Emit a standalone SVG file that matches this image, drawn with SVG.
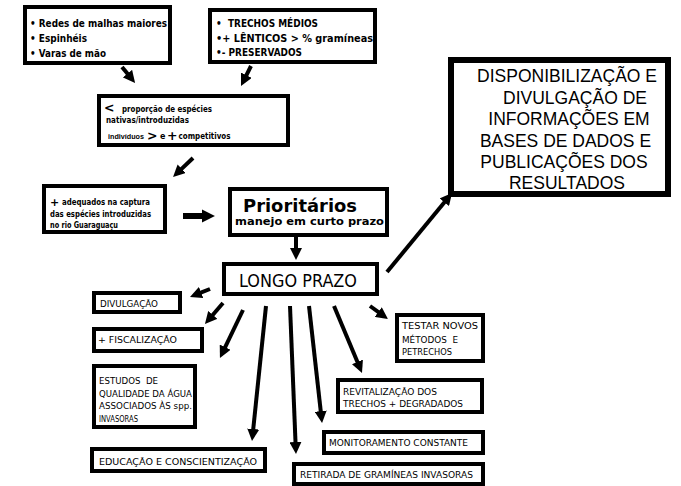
<svg xmlns="http://www.w3.org/2000/svg" width="681" height="486" viewBox="0 0 681 486">
<style>
.bx{fill:#fff;stroke:#000;stroke-width:4}
.b{font-family:"DejaVu Sans",Verdana,sans-serif;font-weight:bold;fill:#000}
.r{font-family:"DejaVu Sans",Verdana,sans-serif;fill:#000;white-space:pre}
.a{font-family:"Liberation Sans",Arial,sans-serif;font-size:17.5px;fill:#000;text-anchor:middle}
.s{font-size:10px}
.t{font-size:8px}
.k{font-size:12.5px}
.n{font-size:9.5px}
.ar{stroke:#000;stroke-width:4;fill:none;marker-end:url(#ah)}
</style>
<defs>
<marker id="ah" viewBox="0 0 10 10" refX="2" refY="5" markerWidth="3" markerHeight="3" orient="auto" markerUnits="strokeWidth"><path d="M0,0 L10,5 L0,10 z" fill="#000"/></marker>
<marker id="ahs" viewBox="0 0 10 10" refX="2" refY="5" markerWidth="2.2" markerHeight="2.2" orient="auto" markerUnits="strokeWidth"><path d="M0,0 L10,5 L0,10 z" fill="#000"/></marker>
</defs>
<rect width="681" height="486" fill="#fff"/>

<g id="connectors">
<line class="ar" x1="122" y1="67" x2="129" y2="75.5"/>
<line class="ar" x1="251" y1="66" x2="245.3" y2="77.4"/>
<line class="ar" x1="193" y1="158" x2="180" y2="170.4"/>
<line x1="183" y1="216" x2="204.4" y2="216" stroke="#000" stroke-width="6" marker-end="url(#ahs)"/>
<line class="ar" x1="296" y1="235" x2="296" y2="250.4"/>
<line class="ar" x1="387" y1="272" x2="445.9" y2="200.4"/>
<line class="ar" x1="210" y1="289" x2="198.9" y2="293.4"/>
<line class="ar" x1="223" y1="303" x2="211.2" y2="316.7"/>
<line class="ar" x1="243" y1="310" x2="224.1" y2="349.3"/>
<line class="ar" x1="266" y1="306" x2="253" y2="431.4"/>
<line class="ar" x1="290" y1="306" x2="295.6" y2="444.4"/>
<line class="ar" x1="309" y1="306" x2="321" y2="413.5"/>
<line class="ar" x1="334" y1="306" x2="358.3" y2="364.1"/>
<line class="ar" x1="370" y1="306" x2="380.2" y2="313.4"/>
</g>

<g id="n-artes">
<rect class="bx" x="25" y="7" width="145" height="56"/>
<text class="b s" x="30" y="26.5" textLength="137" lengthAdjust="spacingAndGlyphs">• Redes de malhas maiores</text>
<text class="b s" x="30" y="41.5" textLength="57" lengthAdjust="spacingAndGlyphs">• Espinhéis</text>
<text class="b s" x="30" y="57" textLength="76" lengthAdjust="spacingAndGlyphs">• Varas de mão</text>
</g>

<g id="n-trechos">
<rect class="bx" x="210" y="10" width="165" height="52"/>
<text class="b s" x="216" y="27" textLength="102" lengthAdjust="spacingAndGlyphs" style="white-space:pre">•  TRECHOS MÉDIOS</text>
<text class="b s" x="216" y="42" textLength="157" lengthAdjust="spacingAndGlyphs">•+ LÊNTICOS &gt; % gramíneas</text>
<text class="b s" x="216" y="56" textLength="86" lengthAdjust="spacingAndGlyphs">•- PRESERVADOS</text>
</g>

<g id="n-proporcao">
<rect class="bx" x="99" y="96" width="189" height="49"/>
<text class="b t" y="111.5"><tspan class="k" x="104" y="112">&lt;</tspan><tspan x="122" y="111.5" textLength="90" lengthAdjust="spacingAndGlyphs">proporção de espécies</tspan></text>
<text class="b t" x="106" y="122.5" textLength="83" lengthAdjust="spacingAndGlyphs">nativas/introduzidas</text>
<text class="b t" y="138.5"><tspan x="108" style="font-family:'Liberation Sans',Arial,sans-serif;font-size:7.2px">indivíduos</tspan><tspan class="k" x="147" y="139.5">&gt;</tspan><tspan x="160" y="138.5">e</tspan><tspan class="k" x="167" y="139.5">+</tspan><tspan x="178.5" y="138.5" textLength="52" lengthAdjust="spacingAndGlyphs">competitivos</tspan></text>
</g>

<g id="n-adequados">
<rect class="bx" x="44" y="186" width="121" height="46"/>
<text class="b t" y="205"><tspan x="50" y="205.5" style="font-size:11px">+</tspan><tspan x="62" y="205" textLength="88" lengthAdjust="spacingAndGlyphs">adequados na captura</tspan></text>
<text class="b t" x="50" y="216.5" textLength="101" lengthAdjust="spacingAndGlyphs">das espécies introduzidas</text>
<text class="b t" x="50" y="227.5" textLength="68" lengthAdjust="spacingAndGlyphs">no rio Guaraguaçu</text>
</g>

<g id="n-prioritarios">
<rect class="bx" x="230" y="189" width="157" height="46"/>
<text class="b" x="243" y="212" style="font-size:17.5px" textLength="114" lengthAdjust="spacingAndGlyphs">Prioritários</text>
<text class="b" x="235" y="224.5" style="font-size:11px" textLength="149" lengthAdjust="spacingAndGlyphs">manejo em curto prazo</text>
</g>

<g id="n-longo">
<rect class="bx" x="224" y="264" width="153" height="30"/>
<text class="r" x="239" y="287" style="font-size:17px" textLength="118" lengthAdjust="spacingAndGlyphs">LONGO PRAZO</text>
</g>

<g id="n-disp">
<rect x="451" y="60" width="217" height="134" fill="#fff" stroke="#000" stroke-width="6"/>
<text class="a" x="567" y="82">DISPONIBILIZAÇÃO E</text>
<text class="a" x="575" y="103.5">DIVULGAÇÃO DE</text>
<text class="a" x="569" y="125">INFORMAÇÕES EM</text>
<text class="a" x="565.5" y="146.5">BASES DE DADOS E</text>
<text class="a" x="564" y="168">PUBLICAÇÕES DOS</text>
<text class="a" x="567" y="188.5">RESULTADOS</text>
</g>

<g id="n-divulgacao">
<rect class="bx" x="94" y="293" width="86" height="19"/>
<text class="r n" x="100" y="307" textLength="58" lengthAdjust="spacingAndGlyphs">DIVULGAÇÃO</text>
</g>

<g id="n-fiscalizacao">
<rect class="bx" x="94" y="329" width="108" height="22"/>
<text class="r n" x="98" y="343" textLength="79" lengthAdjust="spacingAndGlyphs">+ FISCALIZAÇÃO</text>
</g>

<g id="n-estudos">
<rect class="bx" x="94" y="366" width="101" height="61"/>
<text class="r n" x="99" y="384" textLength="59" lengthAdjust="spacingAndGlyphs">ESTUDOS  DE</text>
<text class="r n" x="99" y="397" textLength="93" lengthAdjust="spacingAndGlyphs">QUALIDADE DA ÁGUA</text>
<text class="r n" x="99" y="409" textLength="93" lengthAdjust="spacingAndGlyphs">ASSOCIADOS ÀS spp.</text>
<text class="r n" x="99" y="422" textLength="39" lengthAdjust="spacingAndGlyphs">INVASORAS</text>
</g>

<g id="n-educacao">
<rect class="bx" x="92" y="449" width="173" height="22"/>
<text class="r n" x="99" y="465" textLength="158" lengthAdjust="spacingAndGlyphs">EDUCAÇÃO E CONSCIENTIZAÇÃO</text>
</g>

<g id="n-retirada">
<rect class="bx" x="294" y="464" width="189" height="20"/>
<text class="r n" x="300" y="478" textLength="173" lengthAdjust="spacingAndGlyphs">RETIRADA DE GRAMÍNEAS INVASORAS</text>
</g>

<g id="n-monitoramento">
<rect class="bx" x="324" y="432" width="159" height="21"/>
<text class="r n" x="329" y="446" textLength="139" lengthAdjust="spacingAndGlyphs">MONITORAMENTO CONSTANTE</text>
</g>

<g id="n-revitalizacao">
<rect class="bx" x="338" y="380" width="144" height="32"/>
<text class="r n" x="343" y="395" textLength="94" lengthAdjust="spacingAndGlyphs">REVITALIZAÇÃO DOS</text>
<text class="r n" x="343" y="407" textLength="120" lengthAdjust="spacingAndGlyphs">TRECHOS + DEGRADADOS</text>
</g>

<g id="n-testar">
<rect class="bx" x="397" y="315" width="86" height="46"/>
<text class="r n" x="402" y="329" textLength="76" lengthAdjust="spacingAndGlyphs">TESTAR NOVOS</text>
<text class="r n" x="402" y="343" textLength="56" lengthAdjust="spacingAndGlyphs">MÉTODOS  E</text>
<text class="r n" x="402" y="355" textLength="50" lengthAdjust="spacingAndGlyphs">PETRECHOS</text>
</g>
</svg>
